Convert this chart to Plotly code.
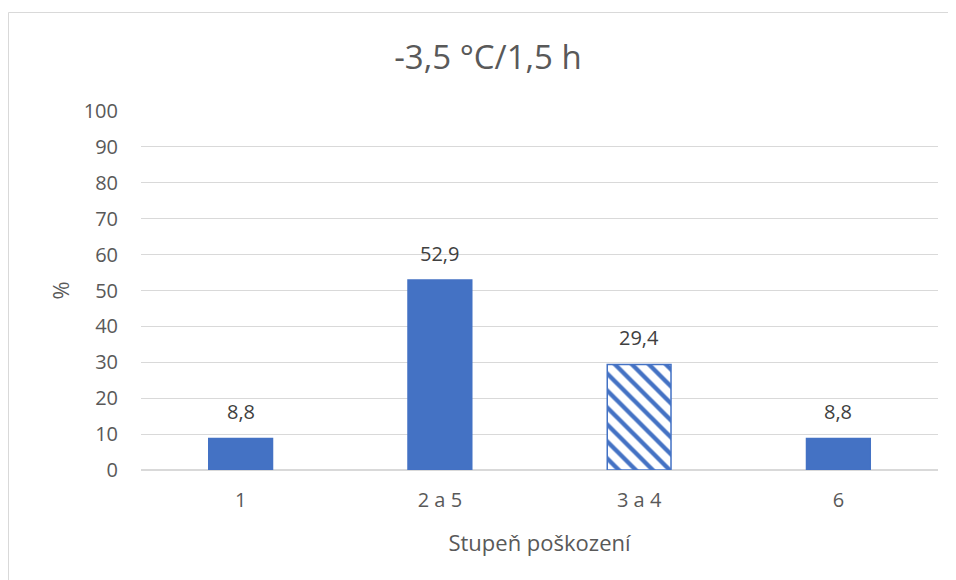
import plotly.graph_objects as go

categories = ["1", "2 a 5", "3 a 4", "6"]
values = [8.8, 52.9, 29.4, 8.8]
patterns = ["", "", "\\", ""]
y_ticks = [0, 10, 20, 30, 40, 50, 60, 70, 80, 90, 100]

OFF = 8  # page body margin
W, H = 956 - OFF, 580 - OFF
L, R, T, B = 141 - OFF, 18, 111 - OFF, 110
pw, ph = W - L - R, H - T - B

def px_to_paper_x(px):
    return (px - OFF - L) / pw

def px_to_paper_y(py):
    return (OFF + H - B - py) / ph

FONT = "Open Sans, Noto Sans, sans-serif"

fig = go.Figure()
fig.add_trace(go.Bar(
    x=categories,
    y=values,
    marker=dict(
        color="#4472C4",
        line=dict(color="#4472C4", width=1.5),
        pattern=dict(shape=patterns, fgcolor="#4472C4", bgcolor="#FFFFFF",
                     size=12, solidity=0.36, fillmode="replace"),
    ),
    width=0.32,
    showlegend=False,
))

# data labels placed at each category index, above each bar value
annotations = [
    dict(x=i, y=v, xref="x", yref="y", text=f"{v:.1f}".replace(".", ","),
         showarrow=False, yanchor="bottom", yshift=11,
         font=dict(size=20, color="#404040", family=FONT))
    for i, v in enumerate(values)
]

fig.update_layout(
    width=W, height=H,
    margin=dict(l=L, r=R, t=T, b=B),
    paper_bgcolor="white",
    plot_bgcolor="white",
    separators=", ",
    font=dict(family=FONT, color="#595959", size=20),
    title=dict(text="-3,5 °C/1,5 h", x=(488 - OFF) / W, xref="container", xanchor="center",
               y=1 - (57 - OFF) / H, yanchor="middle",
               font=dict(size=33, color="#595959")),
    annotations=annotations,
    xaxis=dict(
        type="category",
        categoryorder="array",
        categoryarray=categories,
        range=[-0.5, len(categories) - 0.5],
        showgrid=False,
        showline=False,
        ticks="",
        ticklabelstandoff=16,
        tickfont=dict(size=20, color="#595959"),
        title=dict(text="Stupeň poškození", font=dict(size=22, color="#595959"), standoff=23),
    ),
    yaxis=dict(
        range=[0, 100],
        tickvals=y_ticks,
        showgrid=True,
        gridcolor="#D9D9D9",
        gridwidth=1,
        zeroline=True,
        zerolinecolor="#D9D9D9",
        zerolinewidth=1.5,
        showline=False,
        ticks="",
        ticklabelstandoff=22,
        tickfont=dict(size=20, color="#595959"),
        title=dict(text="%", font=dict(size=22, color="#595959"), standoff=7),
    ),
    shapes=[dict(
        type="rect", xref="paper", yref="paper",
        x0=px_to_paper_x(8.5), x1=px_to_paper_x(975),
        y0=px_to_paper_y(600), y1=px_to_paper_y(12.5),
        line=dict(color="#D9D9D9", width=1), fillcolor="rgba(0,0,0,0)", layer="below",
    )],
)

fig.write_html("out.html")
